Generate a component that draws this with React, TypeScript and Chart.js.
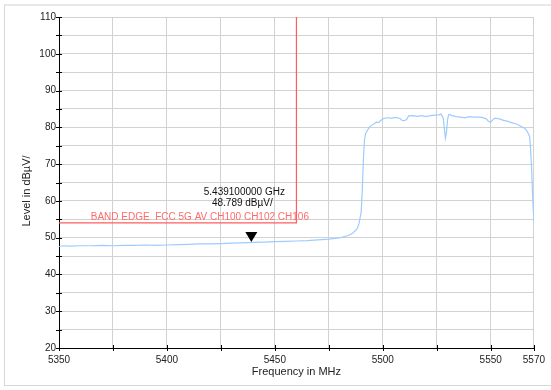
import React, { useEffect, useRef } from "react";
import { Chart, registerables } from "chart.js";

Chart.register(...registerables);

// ---- data ----
const traceFreqMHz = [
  5350, 5352, 5355, 5360, 5365, 5370, 5375, 5380, 5385, 5390, 5395, 5400, 5405, 5410, 5415,
  5420, 5425, 5430, 5435, 5440, 5445, 5450, 5455, 5460, 5465, 5470, 5475, 5478, 5481, 5484,
  5486, 5488, 5489, 5490, 5490.5, 5491, 5491.5, 5492, 5493, 5494, 5495, 5496, 5497, 5498,
  5500, 5502, 5504, 5506, 5508, 5509, 5510, 5511, 5512, 5514, 5516, 5518, 5520, 5522, 5524,
  5526, 5527, 5528, 5528.5, 5529, 5529.5, 5530, 5530.5, 5531, 5532, 5534, 5536, 5538, 5540,
  5542, 5544, 5546, 5548, 5549, 5550, 5551, 5552, 5554, 5556, 5558, 5560, 5562, 5564, 5566,
  5567, 5568, 5568.5, 5569, 5569.5, 5570,
];
const traceLevel = [
  47.6, 47.8, 47.7, 47.8, 47.8, 47.9, 47.8, 47.9, 47.9, 48.0, 47.9, 48.0, 48.1, 48.2, 48.3,
  48.3, 48.4, 48.5, 48.6, 48.7, 48.8, 48.9, 49.0, 49.1, 49.2, 49.4, 49.6, 49.8, 50.1, 50.6,
  51.2, 52.3, 53.8, 57.0, 63.0, 71.0, 76.5, 78.3, 79.3, 80.2, 80.6, 81.0, 81.4, 81.3,
  82.3, 82.6, 82.5, 82.7, 82.4, 81.9, 81.8, 82.1, 83.1, 83.2, 83.0, 83.2, 82.9, 83.2, 83.3,
  83.4, 83.6, 82.5, 80.0, 77.0, 78.5, 82.0, 83.4, 83.5, 83.2, 82.9, 82.8, 82.6, 82.9,
  82.8, 82.8, 82.7, 82.3, 81.6, 81.4, 82.1, 82.5, 82.3, 81.9, 81.6, 81.2, 80.9, 80.3, 79.6,
  78.8, 77.5, 74.0, 68.0, 60.0, 54.6,
];

const limitFreqMHz = [5350, 5460, 5460];
const limitLevel = [54, 54, 110];
const limitLabel = "BAND EDGE  FCC 5G AV CH100 CH102 CH106";
const limitLabelFreq = 5364.7;

const markerFreqMHz = 5439.1;
const markerLevel = 48.789;
const markerText = ["5.439100000 GHz", "48.789 dBµV/"];

const xTickValues = [5350, 5375, 5400, 5425, 5450, 5475, 5500, 5525, 5550, 5570];
const xTickLabels = ["5350", "", "5400", "", "5450", "", "5500", "", "5550", "5570"];
const yTickValues = [20, 25, 30, 35, 40, 45, 50, 55, 60, 65, 70, 75, 80, 85, 90, 95, 100, 105, 110];
const yTickLabels = ["20", "", "30", "", "40", "", "50", "", "60", "", "70", "", "80", "", "90", "", "100", "", "110"];

const xTitle = "Frequency in MHz";
const yTitle = "Level in dBµV/";

const FONT = "'Liberation Sans', Arial, Helvetica, sans-serif";

const overlayPlugin = {
  id: "overlay",
  afterDraw(chart: any) {
    const { ctx, chartArea: a, scales } = chart;
    const x = scales.x;
    const y = scales.y;
    ctx.save();
    // crossing tick marks
    ctx.strokeStyle = "#000";
    ctx.lineWidth = 1;
    ctx.beginPath();
    yTickValues.forEach((v) => {
      const py = Math.round(y.getPixelForValue(v)) + 0.5;
      ctx.moveTo(a.left - 3, py);
      ctx.lineTo(a.left + 3, py);
    });
    xTickValues.forEach((v) => {
      const px = Math.round(x.getPixelForValue(v)) + 0.5;
      ctx.moveTo(px, a.bottom - 3);
      ctx.lineTo(px, a.bottom + 3);
    });
    ctx.stroke();

    // marker triangle (tip at the point)
    const mx = x.getPixelForValue(markerFreqMHz);
    const my = y.getPixelForValue(markerLevel);
    ctx.fillStyle = "#000";
    ctx.beginPath();
    ctx.moveTo(mx, my);
    ctx.lineTo(mx - 6, my - 10);
    ctx.lineTo(mx + 6, my - 10);
    ctx.closePath();
    ctx.fill();

    // marker text
    ctx.font = `10px ${FONT}`;
    ctx.fillStyle = "#111";
    ctx.textAlign = "center";
    ctx.textBaseline = "alphabetic";
    ctx.fillText(markerText[0], mx - 7, my - 47);
    ctx.fillText(markerText[1], mx - 9, my - 36);

    // limit label
    ctx.fillStyle = "#ff6b6b";
    ctx.textAlign = "left";
    ctx.fillText(limitLabel, x.getPixelForValue(limitLabelFreq), y.getPixelForValue(limitLevel[0]) - 2.5);

    // axis titles
    ctx.fillStyle = "#222";
    ctx.font = `11px ${FONT}`;
    ctx.textAlign = "center";
    ctx.textBaseline = "middle";
    ctx.fillText(xTitle, (a.left + a.right) / 2, 372);
    ctx.save();
    ctx.translate(27, 191);
    ctx.rotate(-Math.PI / 2);
    ctx.fillText(yTitle, 0, 0);
    ctx.restore();

    ctx.restore();
  },
};

export default function App() {
  const ref = useRef<HTMLCanvasElement | null>(null);
  useEffect(() => {
    if (!ref.current) return;
    const chart = new Chart(ref.current, {
      type: "scatter",
      data: {
        datasets: [
          {
            data: traceFreqMHz.map((f, i) => ({ x: f, y: traceLevel[i] })),
            showLine: true,
            borderColor: "#9fcbff",
            borderWidth: 1.2,
            pointRadius: 0,
            tension: 0,
          },
          {
            data: limitFreqMHz.map((f, i) => ({ x: f, y: limitLevel[i] })),
            showLine: true,
            borderColor: "#ff5c5c",
            borderWidth: 1.2,
            pointRadius: 0,
            tension: 0,
          },
        ],
      },
      options: {
        animation: false,
        responsive: false,
        maintainAspectRatio: false,
        layout: { padding: { left: 0, right: 14, top: 17, bottom: 0 } },
        plugins: { legend: { display: false }, tooltip: { enabled: false }, title: { display: false } },
        scales: {
          x: {
            type: "linear",
            min: 5350,
            max: 5570,
            afterBuildTicks: (s: any) => {
              s.ticks = xTickValues.map((v) => ({ value: v }));
            },
            afterFit: (s: any) => {
              s.height = 42;
            },
            ticks: {
              autoSkip: false,
              maxRotation: 0,
              padding: 6,
              color: "#222",
              font: { size: 10, family: FONT },
              callback: (v: any) => {
                const i = xTickValues.indexOf(Number(v));
                return i >= 0 ? xTickLabels[i] : "";
              },
            },
            grid: { color: "#d2d2d2", lineWidth: 1, drawTicks: false },
            border: { color: "#000", width: 1 },
          },
          y: {
            type: "linear",
            min: 20,
            max: 110,
            afterBuildTicks: (s: any) => {
              s.ticks = yTickValues.map((v) => ({ value: v }));
            },
            afterFit: (s: any) => {
              s.width = 59;
            },
            ticks: {
              autoSkip: false,
              padding: 3,
              color: "#222",
              font: { size: 10, family: FONT },
              callback: (v: any) => {
                const i = yTickValues.indexOf(Number(v));
                return i >= 0 ? yTickLabels[i] : "";
              },
            },
            grid: { color: "#d2d2d2", lineWidth: 1, drawTicks: false },
            border: { color: "#000", width: 1 },
          },
        },
      },
      plugins: [overlayPlugin],
    });
    return () => chart.destroy();
  }, []);

  return (
    <div style={{ position: "fixed", left: 0, top: 0, width: 551, height: 390, background: "#fff", overflow: "hidden" }}>
      <div
        style={{
          position: "absolute",
          left: 4,
          top: 4,
          width: 560,
          height: 379,
          borderLeft: "1px solid #d6d6d6",
          borderBottom: "1px solid #d6d6d6",
          borderTop: "2px solid #e8e8e8",
        }}
      />
      <canvas ref={ref} width={551} height={390} style={{ position: "absolute", left: 0, top: 0, width: 551, height: 390 }} />
    </div>
  );
}
